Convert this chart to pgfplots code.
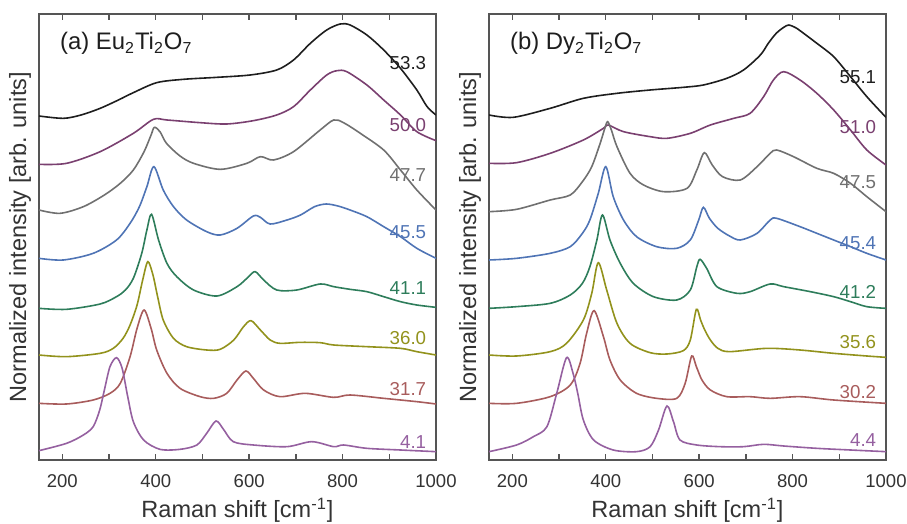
\documentclass[border=0pt]{standalone}
\usepackage{fontspec}
\setmainfont{Liberation Sans}
\usepackage{pgfplots}
\pgfplotsset{compat=1.18}

\definecolor{txt}{HTML}{333333}
\definecolor{axl}{HTML}{555555}
\definecolor{cK}{HTML}{1E1E1E}
\definecolor{cM}{HTML}{7A4070}
\definecolor{cG}{HTML}{707070}
\definecolor{cB}{HTML}{4F74B5}
\definecolor{cT}{HTML}{2E7D5B}
\definecolor{cO}{HTML}{92921C}
\definecolor{cR}{HTML}{A85C5C}
\definecolor{cP}{HTML}{9560A0}

\tikzset{lab/.style={font=\fontsize{9.4}{11}\selectfont, anchor=east}}

\pgfplotsset{
  raman/.style={
    scale only axis, width=198.5bp, height=223bp,
    xmin=150, xmax=1000, ymin=0, ymax=1338,
    xtick={200,400,600,800,1000},
    minor xtick={300,500,700,900},
    ytick=\empty,
    tick align=inside, xtick pos=both,
    major tick length=3bp, minor tick length=3bp,
    every tick/.style={axl, line width=0.7bp},
    axis line style={axl, line width=0.8bp},
    /pgf/number format/assume math mode=true,
    /pgf/number format/1000 sep={},
    tick label style={font=\fontsize{9.3}{11}\selectfont, text=txt},
    xticklabel style={anchor=base, yshift=-13.5bp},
    xlabel={Raman shift [cm\textsuperscript{-1}]},
    ylabel={Normalized intensity [arb. units]},
    every axis x label/.style={at={(axis description cs:0.5,-0.130)}, anchor=base,
      font=\fontsize{11.8}{14}\selectfont, text=txt},
    every axis y label/.style={at={(axis description cs:-0.048,0.5)}, rotate=90, anchor=center,
      font=\fontsize{11.8}{14}\selectfont, text=txt},
    every axis plot/.append style={line width=0.8bp, smooth, tension=0.5, no marks},
  },
}

\begin{document}
\begin{tikzpicture}
% (a) Eu2Ti2O7
\begin{axis}[raman, at={(0,0)}, anchor=south west]
\addplot[cK] coordinates {(150,1032) (202,1025) (240,1035) (281,1055) (320,1080) (352,1102) (402,1132) (459,1142) (531,1148) (602,1155) (659,1170) (695,1200) (731,1250) (766,1290) (795,1308) (816,1305) (852,1275) (888,1230) (924,1175) (959,1110) (981,1060) (1000,1035)};
\addplot[cM] coordinates {(150,887) (209,890) (281,925) (352,980) (395,1022) (424,1020) (495,1012) (552,1008) (609,1018) (659,1035) (695,1060) (731,1110) (766,1155) (788,1168) (809,1165) (852,1125) (888,1080) (924,1035) (959,985) (1000,958)};
\addplot[cG] coordinates {(150,750) (195,740) (245,760) (290,795) (324,830) (352,870) (375,925) (390,975) (397,998) (409,985) (423,950) (452,912) (481,890) (538,872) (595,890) (624,910) (652,900) (695,925) (752,990) (781,1020) (802,1012) (838,980) (888,930) (924,870) (959,810) (1000,750)};
\addplot[cB] coordinates {(150,605) (202,600) (266,620) (316,660) (345,710) (365,760) (381,820) (396,880) (416,810) (438,760) (466,720) (509,685) (538,675) (574,695) (609,732) (624,728) (645,708) (681,720) (710,735) (740,760) (765,768) (790,762) (816,750) (852,730) (888,700) (924,670) (959,635) (1000,605)};
\addplot[cT] coordinates {(150,455) (209,452) (281,468) (316,490) (335,510) (352,545) (370,620) (381,690) (391,737) (406,660) (424,590) (445,550) (481,510) (531,492) (574,520) (599,550) (613,565) (631,540) (659,510) (702,510) (752,528) (781,520) (816,512) (852,505) (888,490) (924,475) (959,465) (1000,458)};
\addplot[cO] coordinates {(150,315) (209,310) (281,320) (309,335) (330,365) (345,405) (360,465) (372,540) (383,595) (394,555) (404,490) (416,420) (438,365) (466,340) (509,330) (538,332) (567,360) (588,400) (604,418) (624,390) (645,360) (666,350) (709,353) (752,352) (781,345) (852,340) (924,335) (959,325) (1000,315)};
\addplot[cR] coordinates {(150,170) (209,168) (266,180) (302,200) (324,230) (345,310) (360,395) (375,450) (390,395) (402,330) (424,260) (452,215) (495,190) (524,185) (552,200) (574,240) (593,267) (609,245) (631,210) (666,190) (720,200) (781,188) (816,195) (888,185) (959,175) (1000,168)};
\addplot[cP] coordinates {(150,28) (209,50) (245,75) (266,100) (280,150) (290,210) (302,280) (316,307) (328,275) (340,190) (352,115) (374,60) (409,32) (452,32) (488,45) (509,80) (529,117) (545,92) (566,55) (609,45) (681,40) (734,55) (781,40) (802,45) (852,35) (924,30) (1000,25)};
\node[anchor=west, font=\fontsize{12}{14}\selectfont, text=cK] at (axis cs:180,1250) {(a) Eu\textsubscript{2}Ti\textsubscript{2}O\textsubscript{7}};
\node[lab, text=cK] at (axis cs:994,1192) {53.3};
\node[lab, text=cM] at (axis cs:994,1005) {50.0};
\node[lab, text=cG] at (axis cs:994,855) {47.7};
\node[lab, text=cB] at (axis cs:994,685) {45.5};
\node[lab, text=cT] at (axis cs:994,516) {41.1};
\node[lab, text=cO] at (axis cs:994,366) {36.0};
\node[lab, text=cR] at (axis cs:994,213) {31.7};
\node[lab, text=cP] at (axis cs:994,55) {4.1};
\end{axis}

% (b) Dy2Ti2O7
\begin{axis}[raman, at={(225bp,0)}, anchor=south west]
\addplot[cK] coordinates {(150,1035) (202,1028) (281,1055) (352,1085) (424,1100) (495,1110) (566,1118) (609,1125) (659,1145) (695,1170) (731,1215) (748,1250) (765,1280) (781,1298) (792,1305) (805,1298) (816,1288) (852,1250) (888,1210) (924,1150) (959,1090) (1000,1028)};
\addplot[cM] coordinates {(150,890) (209,892) (281,920) (352,960) (395,995) (405,1005) (438,985) (495,970) (531,965) (581,980) (624,1005) (674,1025) (709,1040) (738,1090) (759,1140) (781,1165) (816,1140) (852,1100) (888,1050) (924,990) (959,930) (1000,885)};
\addplot[cG] coordinates {(150,745) (209,752) (281,780) (324,795) (350,835) (370,880) (388,950) (398,995) (404,1015) (412,990) (424,940) (452,860) (481,825) (524,805) (574,815) (595,870) (611,922) (628,885) (650,850) (688,840) (724,880) (752,920) (766,930) (802,910) (852,875) (888,860) (924,830) (959,790) (1000,745)};
\addplot[cB] coordinates {(150,600) (209,605) (281,620) (324,640) (350,680) (366,720) (384,800) (400,880) (416,790) (438,720) (466,670) (509,640) (552,635) (581,660) (599,720) (609,758) (622,725) (640,695) (665,672) (688,660) (724,680) (752,720) (766,725) (816,700) (852,680) (888,660) (924,640) (959,620) (1000,600)};
\addplot[cT] coordinates {(150,455) (209,460) (281,470) (324,495) (350,530) (366,580) (381,660) (393,735) (409,660) (431,590) (459,530) (502,490) (552,480) (581,510) (595,580) (602,602) (616,575) (638,520) (681,500) (709,505) (752,528) (781,520) (838,505) (888,490) (924,475) (959,460) (1000,455)};
\addplot[cO] coordinates {(150,315) (209,312) (281,325) (316,350) (352,420) (370,500) (384,592) (402,510) (424,410) (452,350) (495,322) (531,318) (566,328) (581,360) (594,452) (603,420) (612,390) (624,360) (640,335) (665,325) (745,335) (816,330) (888,320) (959,312) (1000,308)};
\addplot[cR] coordinates {(150,170) (209,170) (281,190) (324,225) (345,290) (359,380) (375,448) (395,370) (409,300) (431,240) (466,200) (509,185) (552,185) (570,230) (584,312) (594,280) (606,240) (624,210) (659,190) (709,190) (752,185) (816,190) (888,180) (1000,170)};
\addplot[cP] coordinates {(150,25) (209,45) (245,70) (274,100) (295,200) (316,307) (330,260) (340,200) (352,120) (374,60) (416,30) (466,25) (495,40) (513,90) (531,162) (545,115) (559,60) (595,45) (645,40) (695,40) (738,47) (781,42) (852,35) (924,30) (1000,25)};
\node[anchor=west, font=\fontsize{12}{14}\selectfont, text=cK] at (axis cs:180,1250) {(b) Dy\textsubscript{2}Ti\textsubscript{2}O\textsubscript{7}};
\node[lab, text=cK] at (axis cs:994,1150) {55.1};
\node[lab, text=cM] at (axis cs:994,1000) {51.0};
\node[lab, text=cG] at (axis cs:994,835) {47.5};
\node[lab, text=cB] at (axis cs:994,650) {45.4};
\node[lab, text=cT] at (axis cs:994,505) {41.2};
\node[lab, text=cO] at (axis cs:994,355) {35.6};
\node[lab, text=cR] at (axis cs:994,205) {30.2};
\node[lab, text=cP] at (axis cs:994,60) {4.4};
\end{axis}
\pgfresetboundingbox
\path (-19.5bp,-32bp) rectangle (434bp,230bp);
\end{tikzpicture}
\end{document}
